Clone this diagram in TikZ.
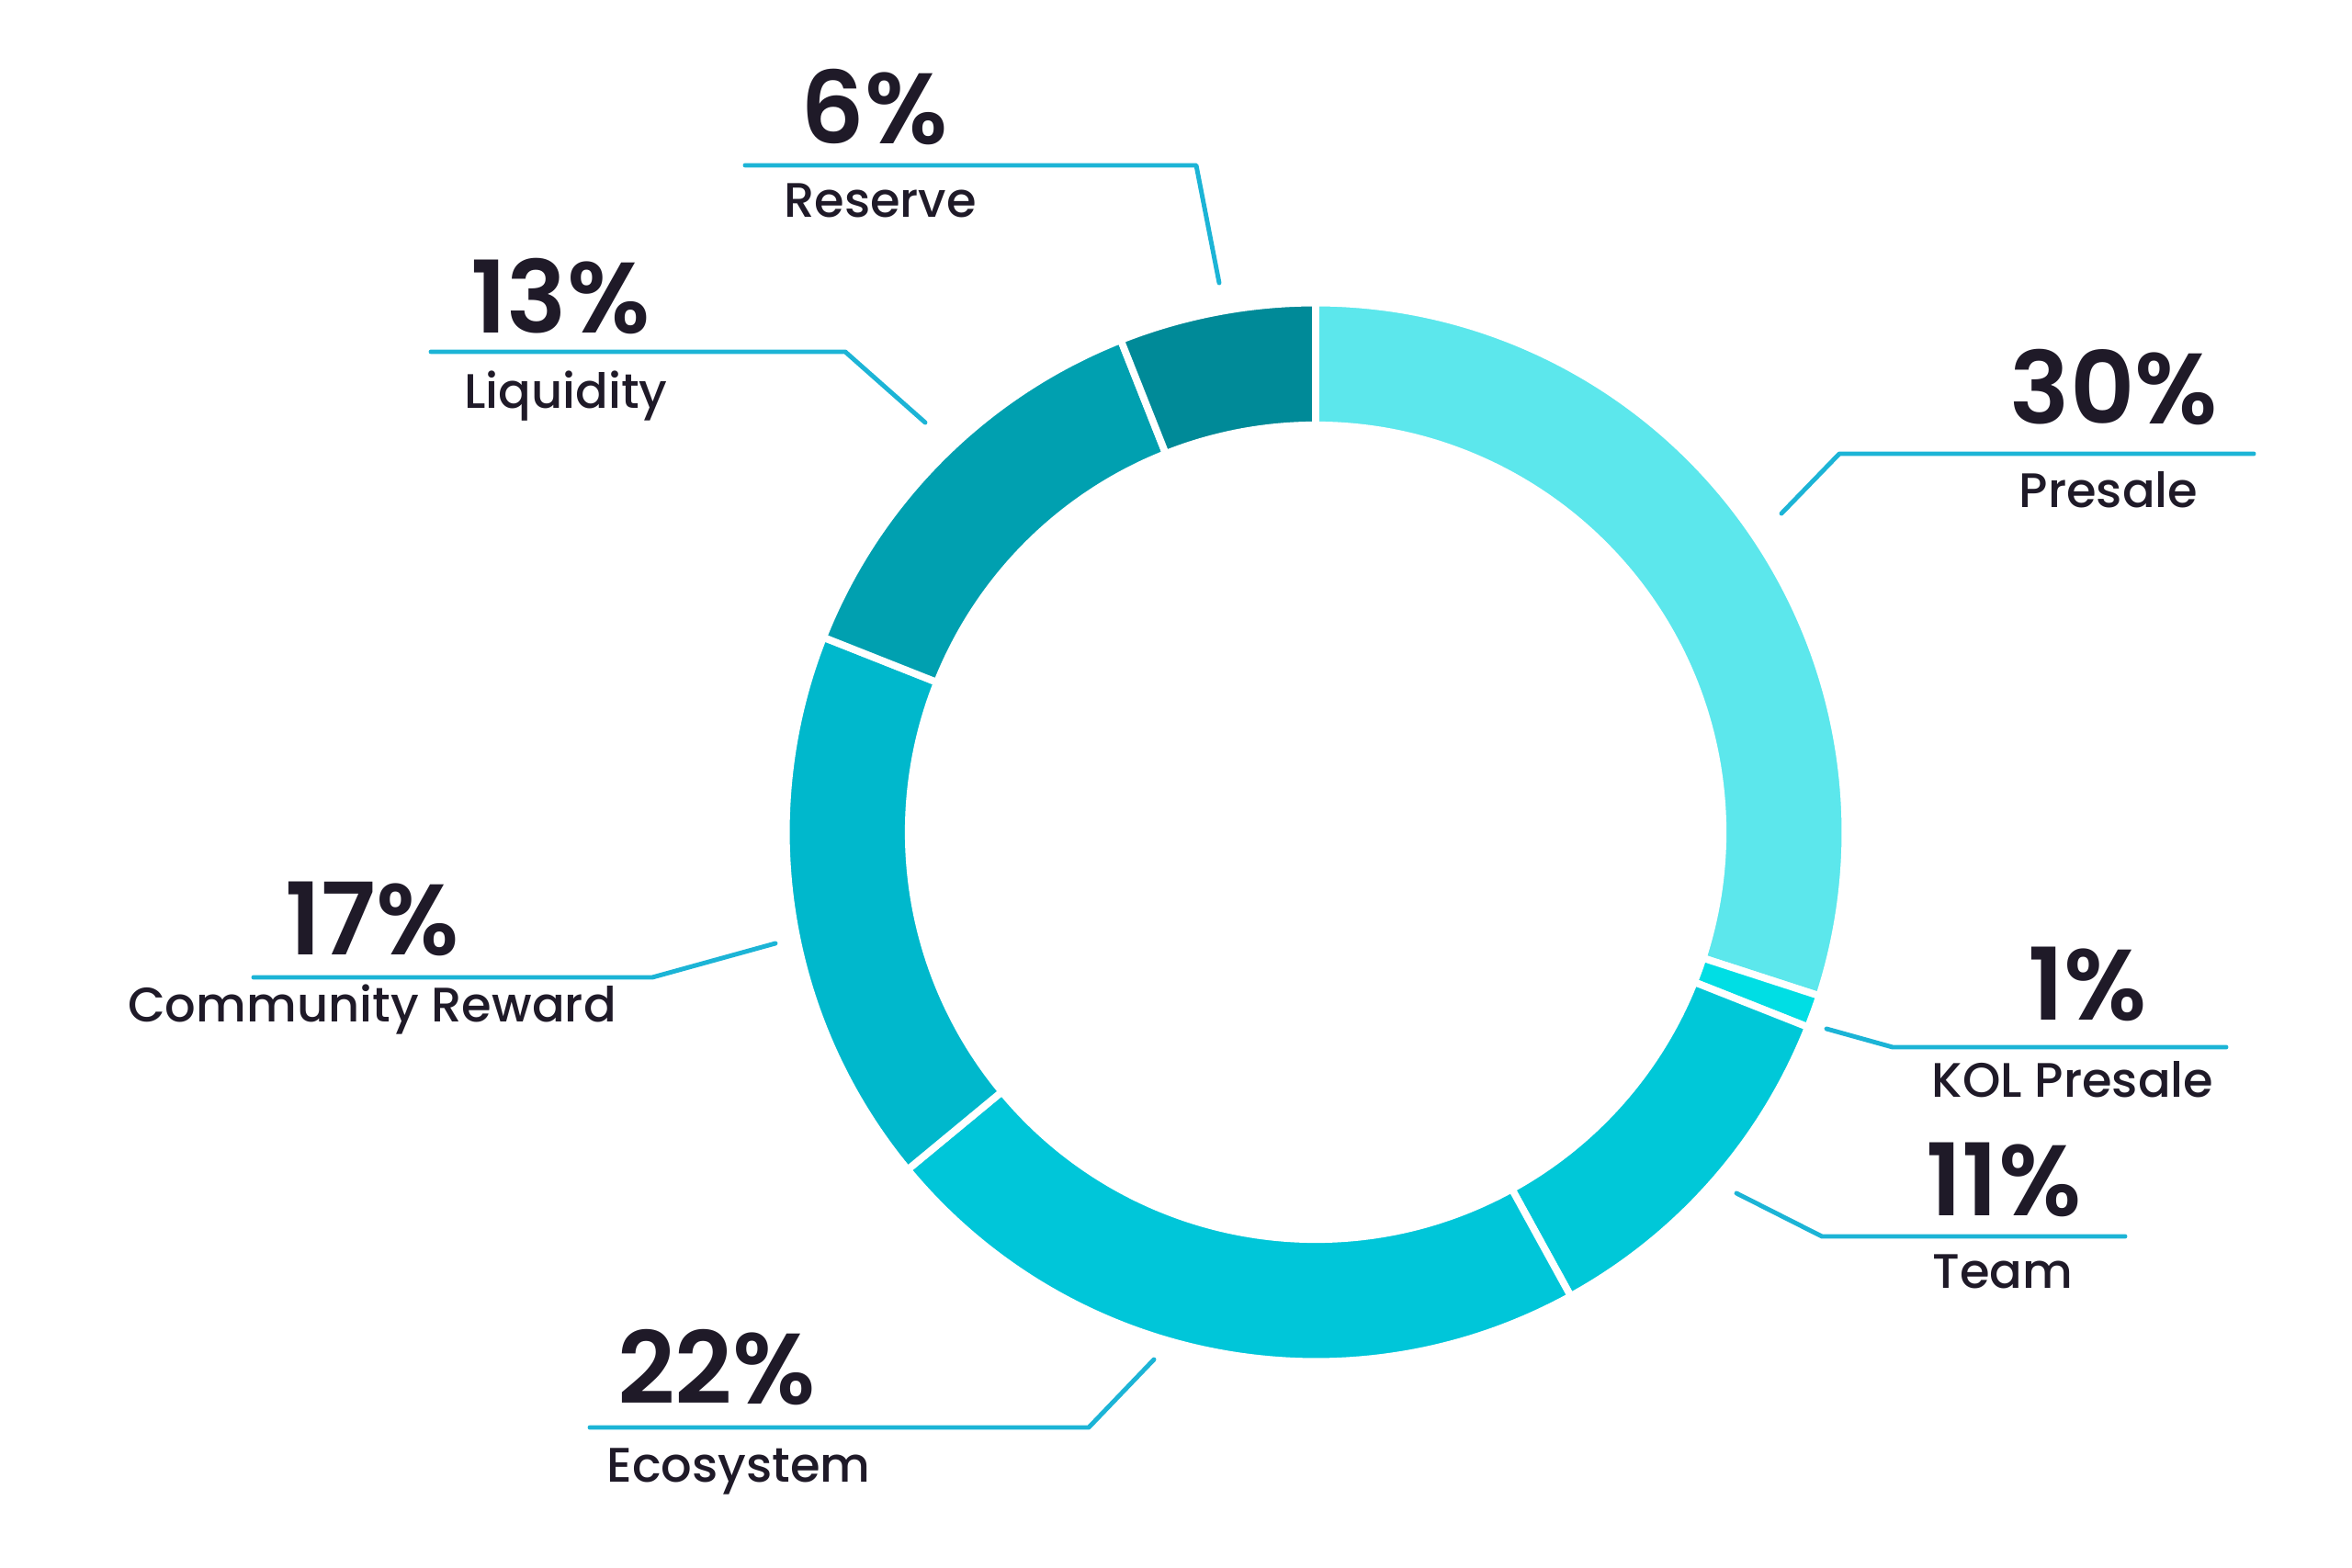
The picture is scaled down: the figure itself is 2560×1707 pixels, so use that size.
\documentclass[tikz,border=0pt]{standalone}
\usepackage{fontspec}
\setmainfont{Poppins}
\newfontfamily\pctfont{Poppins SemiBold}
\newfontfamily\lblfont{Poppins Medium}
\usetikzlibrary{calc}
\definecolor{cPresale}{HTML}{5CE7EC}
\definecolor{cKol}{HTML}{00DEE4}
\definecolor{cTeam}{HTML}{00C8D8}
\definecolor{cEco}{HTML}{00C6D9}
\definecolor{cComm}{HTML}{00B8CC}
\definecolor{cLiq}{HTML}{00A0B0}
\definecolor{cRes}{HTML}{008A98}
\definecolor{cLead}{HTML}{1CB4D6}
\definecolor{cInk}{HTML}{1F1A28}
\newcommand{\slice}[3]{ \fill[#3, draw=white, line width=2.2pt] ( #1 : 5.76 ) arc ( #1 : #2 : 5.76 ) -- ( #2 : 4.43 ) arc ( #2 : #1 : 4.43 ) -- cycle;}
\tikzset{
  lead/.style={cLead, line width=1.4pt, line cap=round, line join=round},
  pct/.style={anchor=base, text=cInk, font=\pctfont\fontsize{31}{31}\selectfont, inner sep=0pt},
  lbl/.style={anchor=base, text=cInk, font=\lblfont\fontsize{15}{15}\selectfont, inner sep=0pt}
}

\begin{document}
\begin{tikzpicture}[x=0.01cm, y=-0.01cm]
    \useasboundingbox (0,0) rectangle (2560,1707);
    % ring
    \begin{scope}[shift={(1432,906)}, x=1cm, y=1cm]
        \slice{90}{-18}{cPresale}
        \slice{-18}{-21.6}{cKol}
        \slice{-21.6}{-61.2}{cTeam}
        \slice{-61.2}{-140.4}{cEco}
        \slice{-140.4}{-201.6}{cComm}
        \slice{158.4}{111.6}{cLiq}
        \slice{111.6}{90}{cRes}
    \end{scope}
    % reserve
    \coordinate (resA) at (1327,308);
    \coordinate (resB) at (1302,180);
    \coordinate (resC) at (811,180);
    \draw[lead] (resA) -- (resB) -- (resC);
    \node[pct] (resP) at (952,157) {6\%};
    \node[lbl] (resL) at (958,237) {Reserve};
    % liquidity
    \coordinate (liqA) at (1007,460);
    \coordinate (liqB) at (920,383);
    \coordinate (liqC) at (469,383);
    \draw[lead] (liqA) -- (liqB) -- (liqC);
    \node[pct] (liqP) at (610,363) {13\%};
    \node[lbl] (liqL) at (616,445) {Liquidity};
    % presale
    \coordinate (preA) at (1939,559);
    \coordinate (preB) at (2002,494);
    \coordinate (preC) at (2453,494);
    \draw[lead] (preA) -- (preB) -- (preC);
    \node[pct] (preP) at (2301,462) {30\%};
    \node[lbl] (preL) at (2295,553) {Presale};
    % kol presale
    \coordinate (kolA) at (1988,1120);
    \coordinate (kolB) at (2060,1140);
    \coordinate (kolC) at (2423,1140);
    \draw[lead] (kolA) -- (kolB) -- (kolC);
    \node[pct] (kolP) at (2272,1110) {1\%};
    \node[lbl] (kolL) at (2256,1195) {KOL Presale};
    % team
    \coordinate (teamA) at (1890,1299);
    \coordinate (teamB) at (1983,1346);
    \coordinate (teamC) at (2313,1346);
    \draw[lead] (teamA) -- (teamB) -- (teamC);
    \node[pct] (teamP) at (2181,1323) {11\%};
    \node[lbl] (teamL) at (2180,1402) {Team};
    % community reward
    \coordinate (comA) at (844,1027);
    \coordinate (comB) at (710,1064);
    \coordinate (comC) at (276,1064);
    \draw[lead] (comA) -- (comB) -- (comC);
    \node[pct] (comP) at (405,1040) {17\%};
    \node[lbl] (comL) at (405,1113) {Community Reward};
    % ecosystem
    \coordinate (ecoA) at (1256,1480);
    \coordinate (ecoB) at (1185,1554);
    \coordinate (ecoC) at (642,1554);
    \draw[lead] (ecoA) -- (ecoB) -- (ecoC);
    \node[pct] (ecoP) at (780,1528) {22\%};
    \node[lbl] (ecoL) at (804,1613) {Ecosystem};
\end{tikzpicture}
\end{document}
